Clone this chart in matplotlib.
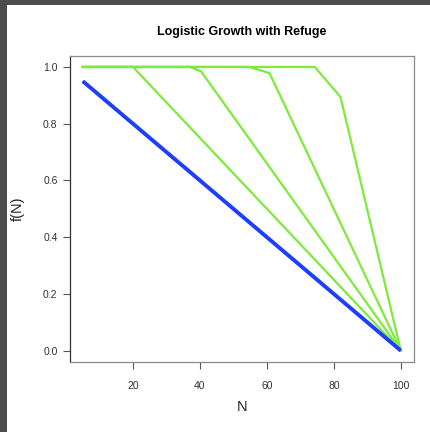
import matplotlib
matplotlib.use("Agg")
import matplotlib.pyplot as plt
from matplotlib.patches import Rectangle

# Data
blue_x = [5, 100]
blue_y = [0.95, 0.0]

green_x = [
    [5, 20, 100],
    [5, 37, 40.3, 100],
    [5, 54.8, 60.8, 100],
    [5, 74.3, 82, 100],
]
green_y = [
    [1.0, 1.0, 0.0],
    [1.0, 1.0, 0.985, 0.0],
    [1.0, 1.0, 0.978, 0.0],
    [1.0, 1.0, 0.894, 0.0],
]

x_ticks = [20, 40, 60, 80, 100]
y_ticks = [0.0, 0.2, 0.4, 0.6, 0.8, 1.0]

plt.rcParams['font.family'] = ['Liberation Sans', 'DejaVu Sans']

W, H = 430, 432
fig = plt.figure(figsize=(W / 100, H / 100), dpi=100)
fig.patch.set_facecolor('white')

# dark frame on top and left
fig.patches.append(Rectangle((0, 1 - 5 / H), 1, 5 / H, transform=fig.transFigure,
                             facecolor='#4d4d4d', edgecolor='none', zorder=-5))
fig.patches.append(Rectangle((0, 0), 7 / W, 1, transform=fig.transFigure,
                             facecolor='#4d4d4d', edgecolor='none', zorder=-5))

left, right, top, bottom = 70, 413.5, 55.6, 362
ax = fig.add_axes([left / W, 1 - bottom / H, (right - left) / W, (bottom - top) / H])

for xs, ys in zip(green_x, green_y):
    ax.plot(xs, ys, color='#7FEA3C', lw=1.6, solid_joinstyle='miter')
ax.plot(blue_x, blue_y, color='#1E3EFF', lw=2.8, solid_capstyle='butt')

ax.set_xlim(1.2, 103.8)
ax.set_ylim(-0.04, 1.04)
ax.set_xticks(x_ticks)
ax.set_yticks(y_ticks)
ax.set_xticklabels([str(v) for v in x_ticks])
ax.set_yticklabels([f"{v:.1f}" for v in y_ticks])
ax.tick_params(axis='both', direction='out', length=5, width=0.8, color='#555555',
               labelsize=7.5, labelcolor='#333333')
ax.tick_params(axis='x', pad=9)
ax.tick_params(axis='y', pad=4)

for s in ['top', 'right', 'bottom']:
    ax.spines[s].set_color('#8a8a8a')
    ax.spines[s].set_linewidth(0.9)
ax.spines['left'].set_color('#333333')
ax.spines['left'].set_linewidth(0.9)

ax.set_xlabel('N', fontsize=10.5, color='#222222')
ax.set_ylabel('f(N)', fontsize=10.5, color='#222222')
ax.xaxis.set_label_coords(0.5, (362 - 407) / (bottom - top), transform=ax.transAxes)
ax.xaxis.label.set_va('center')
ax.yaxis.set_label_coords((18 - left) / (right - left), 0.5, transform=ax.transAxes)
ax.yaxis.label.set_va('center')
ax.set_title('Logistic Growth with Refuge', fontsize=9, fontweight='bold', pad=15)

fig.savefig('out.png', dpi=100)
